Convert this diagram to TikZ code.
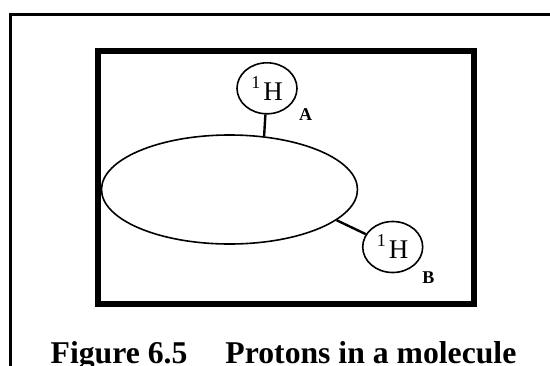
\documentclass[tikz,border=0pt]{standalone}
\usepackage{fontspec}
\setmainfont{Liberation Serif}
\usetikzlibrary{shapes.geometric}

\newcommand{\protonlabel}{\raisebox{12pt}{\fontsize{18}{20}\selectfont 1}\kern3pt H}

\begin{document}
\begin{tikzpicture}[
  x=1pt, y=-1pt,
  frame/.style={draw=black, line width=#1},
  proton/.style={
    ellipse, draw=black, line width=1.6pt,
    minimum width=60pt, minimum height=51pt, inner sep=0pt,
    font=\fontsize{27}{29}\selectfont
  },
  bond/.style={line width=2.4pt, black},
  lbl/.style={font=\fontsize{18}{20}\selectfont\bfseries, inner sep=0pt, anchor=base},
]

% Page area
\useasboundingbox (0,0) rectangle (550,365);
\clip (0,0) rectangle (550,365);

% Outer frame (runs off the page)
\draw[frame=3pt] (10.5,380) -- (10.5,14.3) -- (565,14.3);

% Inner box
\draw[frame=6pt] (98,51.3) rectangle (474,304);

% Molecule
\node[ellipse, draw=black, line width=1.6pt, minimum width=256pt,
      minimum height=109pt, inner sep=0pt] (mol) at (229.5,189.5) {};

% Protons
\node[proton] (hA) at (267,88.3) {\protonlabel};
\node[proton] (hB) at (392.7,247) {\protonlabel};

% Bonds
\draw[bond] (hA) -- (mol.57);
\draw[bond] (hB) -- (mol.-16);

% Labels
\node[lbl] (labA) at (305.5,120) {A};
\node[lbl] (labB) at (428.3,283.5) {B};

% Caption
\node[font=\fontsize{31.7}{34}\selectfont\bfseries, anchor=base, inner sep=0pt]
  (caption) at (283.5,363) {Figure 6.5\hspace{1.2em}Protons in a molecule};

\end{tikzpicture}
\end{document}
